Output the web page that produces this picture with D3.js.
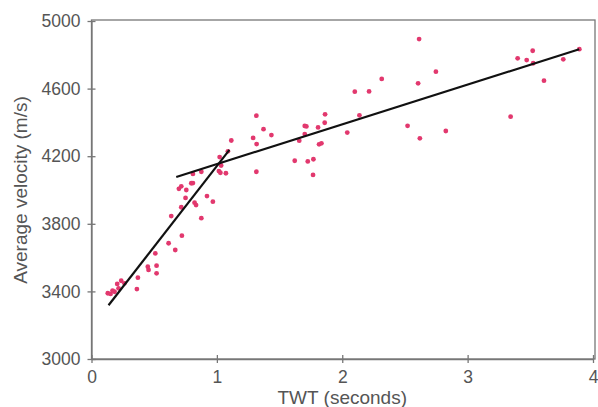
<!DOCTYPE html>
<html>
<head>
<meta charset="utf-8">
<script src="https://cdn.jsdelivr.net/npm/d3@7"></script>
<style>
  html, body { margin: 0; padding: 0; background: #fff; }
  svg { display: block; }
  text { font-family: "Liberation Sans", Arial, Helvetica, sans-serif; fill: #555; }
</style>
</head>
<body>
<svg id="chart" width="598" height="407"></svg>
<script>
// Two-way travel time (s) and average velocity (m/s) of each well tie
const twt = [
  0.130, 0.152, 0.184, 0.216, 0.205, 0.237, 0.263, 0.168, 0.362, 0.370,
  0.449, 0.455, 0.519, 0.519, 0.509, 0.615, 0.668, 0.721,
  0.636, 0.716, 0.876, 0.750, 0.822, 0.834, 0.921, 0.968, 0.756, 0.716,
  0.697, 0.809, 0.796, 0.809, 0.876, 1.016, 1.028, 1.072, 1.034, 1.022,
  1.088, 1.115, 1.289, 1.317, 1.372, 1.435, 1.315, 1.315,
  1.701, 1.714, 1.807, 1.863, 1.860, 1.701, 1.657, 1.815, 1.834, 2.040,
  2.137, 2.100, 2.214, 2.315, 1.621, 1.725, 1.770, 1.767,
  2.613, 2.747, 2.605, 2.521, 2.619, 2.826, 3.343, 3.399, 3.471, 3.519,
  3.523, 3.609, 3.763, 3.891
];
const velocity = [
  3389, 3385, 3398, 3418, 3444, 3463, 3448, 3405, 3414, 3481,
  3546, 3527, 3552, 3507, 3625, 3685, 3645, 3730,
  3846, 3898, 3833, 3953, 3925, 3911, 3964, 3931, 4000, 4022,
  4007, 4041, 4040, 4095, 4108, 4112, 4102, 4099, 4145, 4195,
  4229, 4293, 4308, 4272, 4360, 4325, 4108, 4440,
  4379, 4376, 4370, 4448, 4398, 4331, 4292, 4270, 4276, 4340,
  4442, 4582, 4583, 4657, 4173, 4169, 4182, 4089,
  4893, 4700, 4631, 4380, 4306, 4349, 4434, 4779, 4769, 4824,
  4750, 4647, 4773, 4833
];

// Linear fits: shallow (steep) trend and deep trend
const shallowFitT = [0.136, 1.10];
const shallowFitV = [3318, 4237];
const deepFitT = [0.676, 3.89];
const deepFitV = [4077, 4833];

const xTicks = [0, 1, 2, 3, 4];
const yTicks = [3000, 3400, 3800, 4200, 4600, 5000];

const svg = d3.select("#chart");
const plotLeft = 91.5, plotRight = 593, plotTop = 21, plotBottom = 359;

const x = d3.scaleLinear().domain([0, 4]).range([plotLeft, plotRight]);
const y = d3.scaleLinear().domain([3000, 5000]).range([plotBottom, plotTop]);

// Plot frame
svg.append("rect")
  .attr("x", plotLeft).attr("y", plotTop - 1)
  .attr("width", 595 - plotLeft).attr("height", plotBottom - plotTop + 1)
  .attr("fill", "none").attr("stroke", "#777").attr("stroke-width", 1.3);

// Axes
const xAxis = svg.append("g").attr("transform", `translate(0,${plotBottom})`)
  .call(d3.axisBottom(x).tickValues(xTicks).tickFormat(d3.format("d"))
    .tickSizeInner(4).tickSizeOuter(0).tickPadding(8));
const yAxis = svg.append("g").attr("transform", `translate(${plotLeft},0)`)
  .call(d3.axisLeft(y).tickValues(yTicks).tickFormat(d3.format("d"))
    .tickSizeInner(4).tickSizeOuter(0).tickPadding(7));

[xAxis, yAxis].forEach(g => {
  g.select(".domain").attr("stroke", "#777").attr("stroke-width", 1.3);
  g.selectAll(".tick line").attr("stroke", "#777").attr("stroke-width", 1.3);
  g.selectAll(".tick text").attr("fill", "#555")
    .style("font-size", "17.5px")
    .style("font-family", "'Liberation Sans', Arial, sans-serif");
});
// Ticks cross the axis line
xAxis.selectAll(".tick line").attr("y1", -4).attr("y2", 4);
yAxis.selectAll(".tick line").attr("x1", -4).attr("x2", 4);

// Axis titles
svg.append("text")
  .attr("x", (plotLeft + plotRight) / 2).attr("y", 404)
  .attr("text-anchor", "middle")
  .style("font-size", "19px")
  .text("TWT (seconds)");

svg.append("text")
  .attr("transform", "translate(27,190) rotate(-90)")
  .attr("text-anchor", "middle")
  .style("font-size", "19px")
  .text("Average velocity (m/s)");

// Data points
const pts = twt.map((t, i) => ({ t, v: velocity[i] }));
svg.append("g").selectAll("circle")
  .data(pts).join("circle")
  .attr("cx", d => x(d.t)).attr("cy", d => y(d.v))
  .attr("r", 2.4)
  .attr("fill", "#e2386e");

// Fit lines
const line = d3.line().x(d => x(d[0])).y(d => y(d[1]));
svg.append("path")
  .datum(shallowFitT.map((t, i) => [t, shallowFitV[i]]))
  .attr("d", line).attr("fill", "none")
  .attr("stroke", "#111").attr("stroke-width", 2.2);
svg.append("path")
  .datum(deepFitT.map((t, i) => [t, deepFitV[i]]))
  .attr("d", line).attr("fill", "none")
  .attr("stroke", "#111").attr("stroke-width", 2.2);
</script>
</body>
</html>
